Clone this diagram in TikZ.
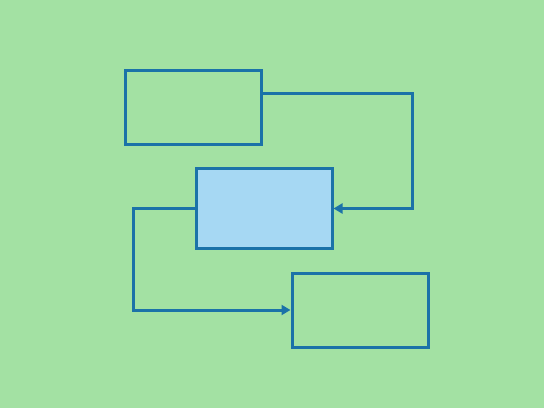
\documentclass[tikz,border=0pt]{standalone}
\usetikzlibrary{arrows.meta}
\definecolor{bggreen}{HTML}{A3E1A3}
\definecolor{strokeblue}{HTML}{1B72A8}
\definecolor{fillblue}{HTML}{A6D8F3}
\begin{document}
\begin{tikzpicture}[x=1pt,y=-1pt,
  boxstyle/.style={draw=strokeblue,line width=3pt,inner sep=0pt,minimum width=136pt,minimum height=74pt},
  arr/.style={draw=strokeblue,line width=3pt,-{Triangle[length=9pt,width=10pt]}}]
\fill[bggreen] (0,0) rectangle (544,408);
\useasboundingbox (0,0) rectangle (544,408);
\node[boxstyle] (top) at (193,107) {};
\node[boxstyle,fill=fillblue,minimum height=80pt] (mid) at (264,208.5) {};
\node[boxstyle] (bot) at (360,310) {};
\coordinate (c1) at (412,93);
\coordinate (c2) at (133,310);
\draw[arr] ([yshift=14pt]top.east) -- (c1) |- (mid.east);
\draw[arr] (mid.west) -| (c2) -- (bot.west);
\end{tikzpicture}
\end{document}
